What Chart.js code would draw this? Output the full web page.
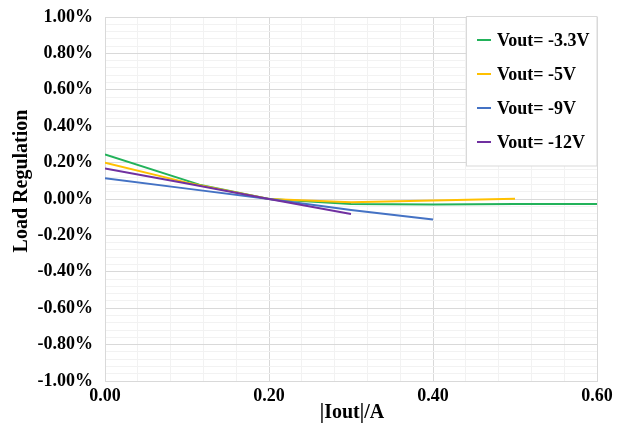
<!DOCTYPE html>
<html>
<head>
<meta charset="utf-8">
<script src="https://cdn.jsdelivr.net/npm/chart.js@4.4.0/dist/chart.umd.min.js"></script>
<style>
body { margin: 0; background: #fff; }
</style>
</head>
<body>
<canvas id="chart" width="621" height="445"></canvas>
<script>
var seriesNames = ["Vout= -3.3V", "Vout= -5V", "Vout= -9V", "Vout= -12V"]
var seriesColors = ["#22b25a", "#ffc000", "#4472c4", "#7030a0"]

// |Iout| in A, load regulation in %
var iout33 = [0, 0.115, 0.2, 0.3, 0.4, 0.5, 0.6]
var reg33 = [0.245, 0.079, 0, -0.027, -0.03, -0.028, -0.027]
var iout5 = [0, 0.1, 0.2, 0.3, 0.4, 0.5]
var reg5 = [0.20, 0.09, 0, -0.018, -0.008, 0.002]
var iout9 = [0, 0.1, 0.2, 0.3, 0.4]
var reg9 = [0.114, 0.057, 0, -0.06, -0.113]
var iout12 = [0, 0.1, 0.2, 0.3]
var reg12 = [0.167, 0.085, 0, -0.083]

var xTitle = "|Iout|/A"
var yTitle = "Load Regulation"

var fontFamily = "'Liberation Serif', 'Times New Roman', serif"

function toPoints(xs, ys){
    var pts = []
    for(var i = 0; i < xs.length; i++){
        pts.push({x: xs[i], y: ys[i]})
    }
    return pts
}

function isMajorX(v){
    return Math.round(v * 100) % 20 === 0
}

function isMajorY(v){
    return Math.round(v * 100) % 20 === 0
}

var allX = [iout33, iout5, iout9, iout12]
var allY = [reg33, reg5, reg9, reg12]
var datasets = []
for(var s = 0; s < seriesNames.length; s++){
    datasets.push({
        label: seriesNames[s],
        data: toPoints(allX[s], allY[s]),
        borderColor: seriesColors[s],
        backgroundColor: seriesColors[s],
        borderWidth: 2,
        pointRadius: 0,
        tension: 0,
        fill: false,
        order: seriesNames.length - s
    })
}

// legend box in the top right corner of the plot
var boxLegend = {
    id: "boxLegend",
    afterDraw: function(chart){
        var ctx = chart.ctx
        ctx.save()
        ctx.fillStyle = "#ffffff"
        ctx.strokeStyle = "#d9d9d9"
        ctx.lineWidth = 1
        ctx.fillRect(466.5, 16.5, 130.5, 149.5)
        ctx.strokeRect(466.5, 16.5, 130.5, 149.5)
        var ys = [40, 74, 108, 142]
        ctx.font = "bold 18px " + fontFamily
        ctx.textBaseline = "middle"
        ctx.textAlign = "left"
        chart.data.datasets.forEach(function(ds, i){
            ctx.strokeStyle = ds.borderColor
            ctx.lineWidth = 2
            ctx.beginPath()
            ctx.moveTo(477, ys[i])
            ctx.lineTo(491, ys[i])
            ctx.stroke()
            ctx.fillStyle = "#000000"
            ctx.fillText(ds.label, 497, ys[i] + 1)
        })
        ctx.restore()
    }
}

var axisTitles = {
    id: "axisTitles",
    afterDraw: function(chart){
        var ctx = chart.ctx
        ctx.save()
        ctx.fillStyle = "#000000"
        ctx.font = "bold 20px " + fontFamily
        ctx.textAlign = "center"
        ctx.textBaseline = "middle"
        ctx.fillText(xTitle, 352, 413)
        ctx.translate(22, 181)
        ctx.rotate(-Math.PI / 2)
        ctx.fillText(yTitle, 0, 0)
        ctx.restore()
    }
}

var ctx = document.getElementById("chart").getContext("2d")
var myChart = new Chart(ctx, {
    type: "line",
    data: { datasets: datasets },
    options: {
        responsive: false,
        animation: false,
        layout: { padding: { top: 17, right: 24, left: 0, bottom: 0 } },
        plugins: {
            legend: { display: false },
            tooltip: { enabled: false }
        },
        scales: {
            x: {
                type: "linear",
                min: 0,
                max: 0.6,
                afterFit: function(scale){
                    scale.height = 64
                    scale.paddingLeft = 0
                    scale.paddingRight = 0
                },
                border: { color: "#d9d9d9", width: 1 },
                grid: {
                    drawTicks: false,
                    color: function(c){ return isMajorX(c.tick.value) ? "#d9d9d9" : "#f2f2f2" }
                },
                ticks: {
                    stepSize: 0.04,
                    autoSkip: false,
                    maxRotation: 0,
                    padding: 5,
                    color: "#000000",
                    font: { family: fontFamily, size: 18, weight: "bold" },
                    callback: function(v){ return isMajorX(v) ? v.toFixed(2) : "" }
                }
            },
            y: {
                min: -1,
                max: 1,
                afterFit: function(scale){
                    scale.width = 105
                    scale.paddingTop = 0
                    scale.paddingBottom = 0
                },
                border: { color: "#d9d9d9", width: 1 },
                grid: {
                    drawTicks: false,
                    color: function(c){ return isMajorY(c.tick.value) ? "#d9d9d9" : "#f2f2f2" }
                },
                ticks: {
                    stepSize: 0.04,
                    autoSkip: false,
                    padding: 12,
                    color: "#000000",
                    font: { family: fontFamily, size: 18, weight: "bold" },
                    callback: function(v){ return isMajorY(v) ? v.toFixed(2) + "%" : "" }
                }
            }
        }
    },
    plugins: [boxLegend, axisTitles]
})
</script>
</body>
</html>
